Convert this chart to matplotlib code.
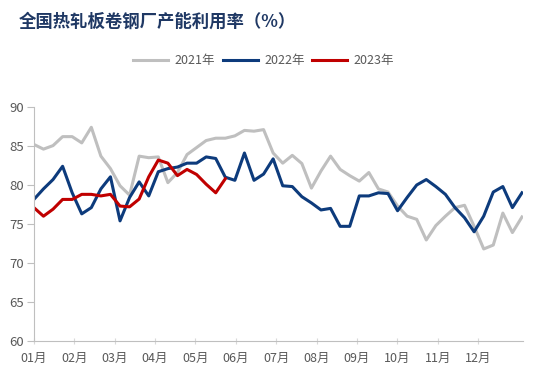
import numpy as np
import matplotlib.pyplot as plt

plt.rcParams['font.family'] = ['Noto Sans CJK SC', 'DejaVu Sans']

# weekly capacity utilisation (%)
y2021 = [85.2, 84.6, 85.05, 86.2, 86.2, 85.4, 87.4, 83.7, 82.1, 79.9,
         78.7, 83.7, 83.5, 83.6, 80.3, 81.6, 83.9, 84.8, 85.7, 86.0,
         86.0, 86.3, 87.0, 86.9, 87.1, 84.1, 82.8, 83.8, 82.75, 79.6,
         81.8, 83.7, 82.0, 81.2, 80.5, 81.6, 79.5, 79.1, 77.3, 76.0,
         75.6, 72.95, 74.8, 76.0, 77.1, 77.4, 74.7, 71.8, 72.3, 76.4,
         73.9, 75.9]
y2022 = [78.15, 79.5, 80.7, 82.4, 79.0, 76.3, 77.1, 79.5, 81.05, 75.4,
         78.4, 80.4, 78.6, 81.7, 82.1, 82.3, 82.8, 82.8, 83.6, 83.4,
         81.0, 80.6, 84.1, 80.6, 81.4, 83.35, 79.9, 79.8, 78.5, 77.7,
         76.8, 77.0, 74.7, 74.7, 78.6, 78.6, 79.0, 78.9, 76.7, 78.4,
         80.0, 80.7, 79.8, 78.8, 77.1, 75.8, 74.0, 76.0, 79.1, 79.8,
         77.1, 79.0]
y2023 = [77.1, 76.0, 76.9, 78.15, 78.15, 78.8, 78.8, 78.6, 78.8, 77.3,
         77.2, 78.2, 81.05, 83.2, 82.8, 81.2, 82.0, 81.35, 80.1, 79.0,
         80.8]
months = ['01月', '02月', '03月', '04月', '05月', '06月',
          '07月', '08月', '09月', '10月', '11月', '12月']

fig = plt.figure(figsize=(5.38, 3.86), dpi=100)
ax = fig.add_axes([0.063, 0.1166, 0.909, 0.6062])

ax.plot(np.arange(len(y2021)), y2021, color='#BFBFBF', lw=2.2, label='2021年')
ax.plot(np.arange(len(y2022)), y2022, color='#0D3B7C', lw=2.2, label='2022年')
ax.plot(np.arange(len(y2023)), y2023, color='#C00000', lw=2.2, label='2023年')

ax.set_ylim(60, 90)
ax.set_xlim(0, 51.1)
ax.set_yticks(np.arange(60, 91, 5))
ax.set_xticks(np.arange(12) * 4.22)
ax.set_xticklabels(months)

for s in ['top', 'right']:
    ax.spines[s].set_visible(False)
for s in ['left', 'bottom']:
    ax.spines[s].set_color('#BFBFBF')
    ax.spines[s].set_linewidth(0.8)
ax.tick_params(axis='y', colors='#BFBFBF', labelcolor='#595959', labelsize=9.5,
               length=5, width=0.8, pad=2)
ax.tick_params(axis='x', colors='#D9D9D9', labelcolor='#595959', labelsize=9,
               length=4, width=0.8, direction='inout', pad=6)

fig.text(0.034, 0.943, '全国热轧板卷钢厂产能利用率（%）', fontsize=12.5,
         fontweight='bold', color='#1F3864', va='center', ha='left')

leg = fig.legend(loc='center', bbox_to_anchor=(0.49, 0.842), ncol=3, frameon=False,
                 fontsize=9, handlelength=2.8, columnspacing=0.6, handletextpad=0.5)
for t in leg.get_texts():
    t.set_color('#595959')

fig.savefig('out.png', dpi=100)
